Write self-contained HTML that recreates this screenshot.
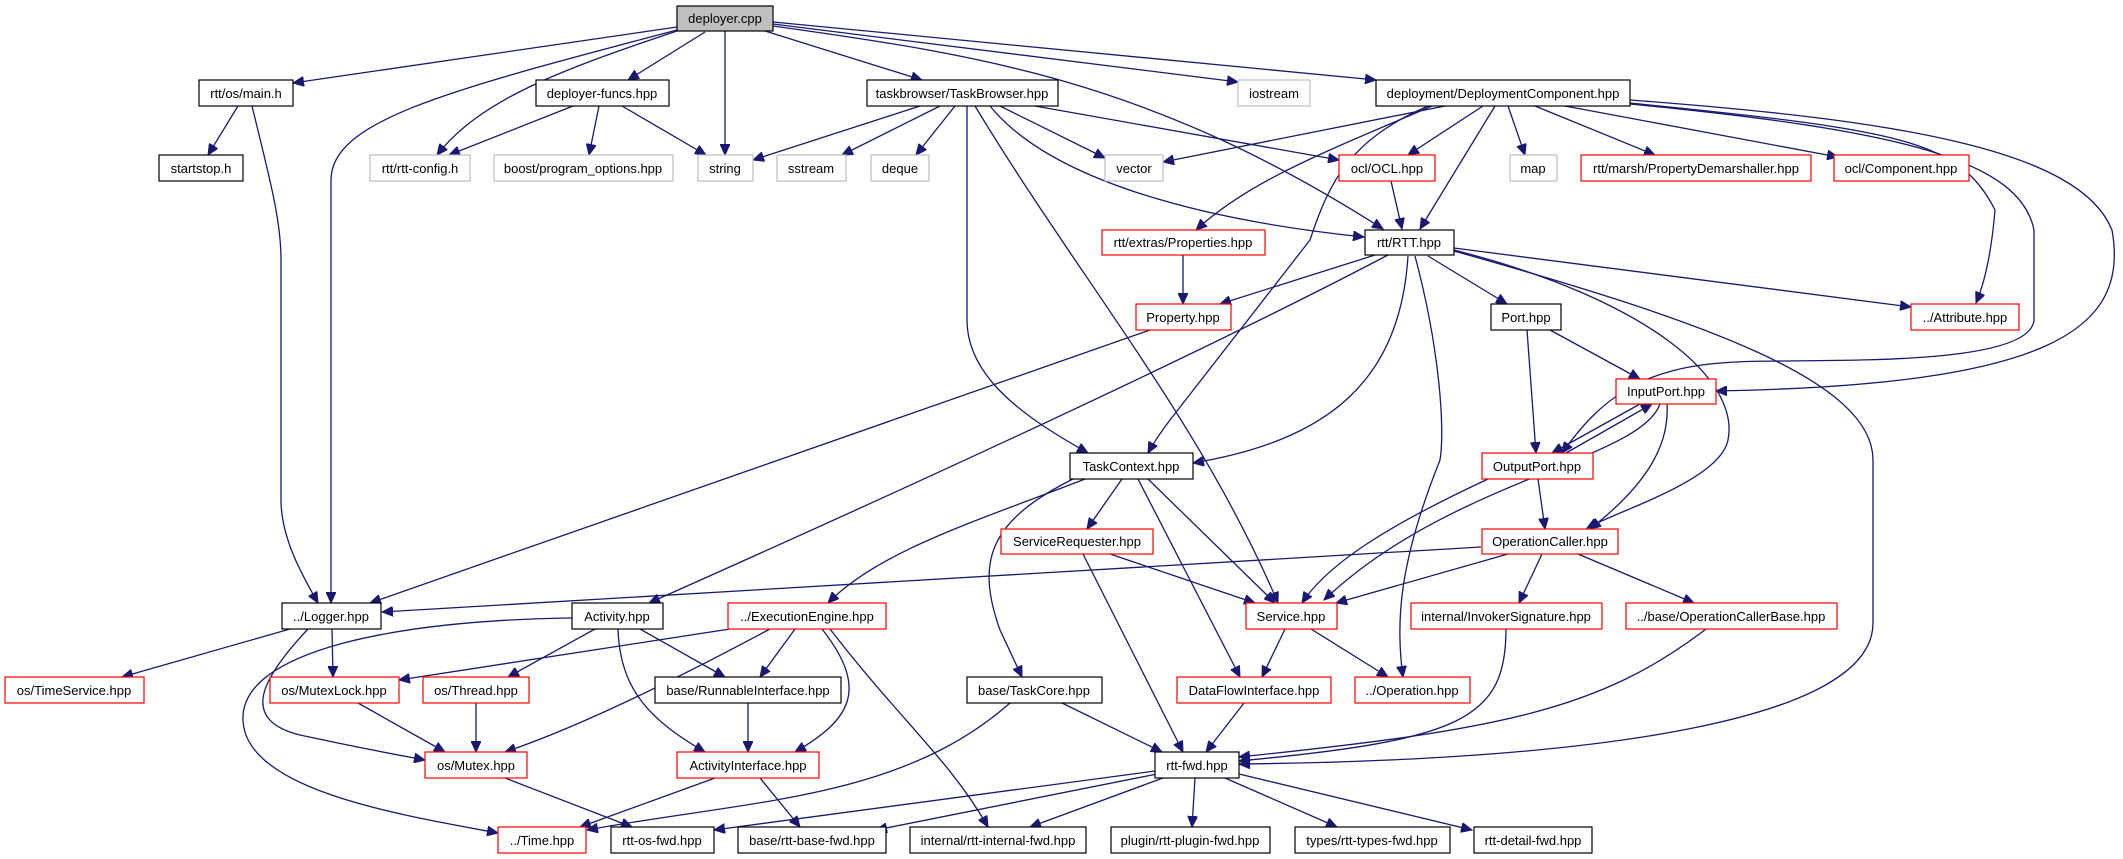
<!DOCTYPE html>
<html><head><meta charset="utf-8"><style>
html,body{margin:0;padding:0;background:#fff;}
svg{display:block;}
text{font-family:"Liberation Sans",Arial,sans-serif;font-size:13px;text-anchor:middle;fill:#000;}
.e{fill:none;stroke:#191970;stroke-width:1.3;marker-end:url(#a);}
.k{fill:#fff;stroke:#000;stroke-width:1.2;}
.r{fill:#fff;stroke:#ff0000;stroke-width:1.2;}
.g{fill:#fff;stroke:#bfbfbf;stroke-width:1.2;}
</style></head><body>
<svg width="2123" height="859" viewBox="0 0 2123 859" xmlns="http://www.w3.org/2000/svg">
<defs><marker id="a" markerUnits="userSpaceOnUse" markerWidth="12" markerHeight="10" refX="11" refY="5" orient="auto"><path d="M0,0 L11,5 L0,10 z" fill="#191970" stroke="#191970"/></marker></defs>

<!-- edges -->
<path class="e" d="M677,27 L293,83"/>
<path class="e" d="M677,30 C450,90 331,120 331,180 L331,603"/>
<path class="e" d="M677,31 C560,70 480,100 437,155"/>
<path class="e" d="M705,32 L628,80"/>
<path class="e" d="M725,31 L725,155"/>
<path class="e" d="M765,31 L922,80"/>
<path class="e" d="M773,24 L1238,82"/>
<path class="e" d="M773,22 L1376,80"/>
<path class="e" d="M773,26 C980,55 1150,80 1383,229"/>

<path class="e" d="M920,106 L753,160"/>
<path class="e" d="M940,106 L842,155"/>
<path class="e" d="M955,106 L916,155"/>
<path class="e" d="M1000,106 L1105,158"/>
<path class="e" d="M1035,106 L1339,160"/>
<path class="e" d="M990,106 C1050,180 1200,220 1364,237"/>
<path class="e" d="M967,106 L967,320 C967,380 1030,420 1088,453"/>
<path class="e" d="M975,106 C1080,280 1200,420 1278,603"/>

<path class="e" d="M1445,106 L1163,162"/>
<path class="e" d="M1432,106 C1330,150 1250,180 1196,230"/>
<path class="e" d="M1428,106 C1350,140 1330,180 1310,240 L1170,420 Q1155,440 1148,453"/>
<path class="e" d="M1483,106 L1408,155"/>
<path class="e" d="M1495,106 L1420,229"/>
<path class="e" d="M1508,106 L1525,155"/>
<path class="e" d="M1535,106 L1655,155"/>
<path class="e" d="M1565,106 L1838,157"/>
<path class="e" d="M1630,103 C1900,130 1960,140 1995,210 Q1990,270 1976,303"/>
<path class="e" d="M1630,100 C1900,120 2080,150 2112,230 C2130,330 2050,385 1716,391"/>
<path class="e" d="M1630,104 C1900,130 2020,160 2034,230 L2034,320 C2030,370 1800,358 1736,362 C1640,366 1600,400 1562,453"/>

<path class="e" d="M1183,255 L1183,304"/>
<path class="e" d="M1391,181 L1402,229"/>

<path class="e" d="M1375,255 L1220,304"/>
<path class="e" d="M1150,330 L370,603"/>
<path class="e" d="M1388,255 Q1150,380 649,603"/>
<path class="e" d="M1408,256 C1400,380 1330,440 1193,463"/>
<path class="e" d="M1415,256 C1440,350 1445,430 1440,460 C1400,560 1395,620 1403,677"/>
<path class="e" d="M1428,256 L1507,304"/>
<path class="e" d="M1454,248 L1911,307"/>
<path class="e" d="M1454,250 C1650,300 1740,380 1728,440 C1720,480 1620,510 1587,528"/>
<path class="e" d="M1454,251 C1700,320 1873,380 1873,460 L1873,623 C1873,720 1600,760 1239,764"/>

<path class="e" d="M1527,330 L1536,453"/>
<path class="e" d="M1550,330 L1640,379"/>

<path class="e" d="M1640,404 L1552,453"/>
<path class="e" d="M1566,453 L1652,404"/>
<path class="e" d="M1660,404 C1640,460 1450,480 1324,600"/>
<path class="e" d="M1667,404 C1670,450 1640,490 1590,529"/>

<path class="e" d="M1538,479 L1545,529"/>
<path class="e" d="M1488,479 C1400,520 1330,560 1302,603"/>

<path class="e" d="M1122,479 L1087,529"/>
<path class="e" d="M1148,479 L1275,603"/>
<path class="e" d="M1138,479 L1240,677"/>
<path class="e" d="M1085,479 C980,520 880,550 828,603"/>
<path class="e" d="M1075,478 C990,520 975,560 1000,630 L1022,677"/>

<path class="e" d="M1110,554 L1255,603"/>
<path class="e" d="M1083,554 L1183,752"/>

<path class="e" d="M1481,547 L382,612"/>
<path class="e" d="M1508,554 L1336,603"/>
<path class="e" d="M1542,554 L1519,603"/>
<path class="e" d="M1578,554 L1694,603"/>

<path class="e" d="M1285,629 L1262,677"/>
<path class="e" d="M1311,629 L1388,677"/>

<path class="e" d="M1506,629 C1506,720 1460,740 1239,761"/>
<path class="e" d="M1706,629 C1600,710 1500,730 1239,757"/>
<path class="e" d="M1244,703 L1206,752"/>
<path class="e" d="M1062,703 L1162,752"/>
<path class="e" d="M1010,703 C900,800 750,800 587,830"/>

<path class="e" d="M1155,771 L714,830"/>
<path class="e" d="M1157,774 L876,830"/>
<path class="e" d="M1163,778 L1030,827"/>
<path class="e" d="M1195,778 L1192,827"/>
<path class="e" d="M1225,778 L1337,827"/>
<path class="e" d="M1239,774 L1472,830"/>

<path class="e" d="M290,629 L122,677"/>
<path class="e" d="M332,629 L333,677"/>
<path class="e" d="M308,629 C260,680 240,720 300,735 Q360,748 425,760"/>

<path class="e" d="M572,618 C400,620 240,650 243,720 C245,790 400,815 498,833"/>
<path class="e" d="M595,629 L508,677"/>
<path class="e" d="M640,629 L725,677"/>
<path class="e" d="M618,629 C620,690 650,720 705,752"/>

<path class="e" d="M730,629 L399,680"/>
<path class="e" d="M770,629 Q600,720 505,752"/>
<path class="e" d="M795,629 L760,677"/>
<path class="e" d="M822,629 C870,690 850,720 795,752"/>
<path class="e" d="M830,629 C900,720 950,760 988,827"/>

<path class="e" d="M358,703 L445,752"/>
<path class="e" d="M476,703 L476,752"/>
<path class="e" d="M748,703 L748,752"/>
<path class="e" d="M505,778 L632,827"/>
<path class="e" d="M715,778 L580,827"/>
<path class="e" d="M760,778 L800,827"/>

<path class="e" d="M238,106 L208,155"/>
<path class="e" d="M252,106 C270,180 281,220 281,260 L281,500 C281,540 305,580 318,603"/>
<path class="e" d="M573,106 L449,155"/>
<path class="e" d="M599,106 L589,155"/>
<path class="e" d="M622,106 L706,155"/>

<!-- nodes -->
<rect x="677" y="6" width="96" height="25" fill="#bfbfbf" stroke="#000" stroke-width="1.2"/><text x="725" y="23">deployer.cpp</text>

<rect class="k" x="199" y="80" width="94" height="26"/><text x="246" y="98">rtt/os/main.h</text>
<rect class="k" x="536" y="80" width="133" height="26"/><text x="602" y="98">deployer-funcs.hpp</text>
<rect class="k" x="867" y="80" width="191" height="26"/><text x="962" y="98">taskbrowser/TaskBrowser.hpp</text>
<rect class="g" x="1238" y="80" width="72" height="26"/><text x="1274" y="98">iostream</text>
<rect class="k" x="1376" y="80" width="254" height="26"/><text x="1503" y="98">deployment/DeploymentComponent.hpp</text>

<rect class="k" x="159" y="155" width="84" height="26"/><text x="201" y="173">startstop.h</text>
<rect class="g" x="370" y="155" width="100" height="26"/><text x="420" y="173">rtt/rtt-config.h</text>
<rect class="g" x="494" y="155" width="179" height="26"/><text x="583" y="173">boost/program_options.hpp</text>
<rect class="g" x="698" y="155" width="55" height="26"/><text x="725" y="173">string</text>
<rect class="g" x="777" y="155" width="69" height="26"/><text x="811" y="173">sstream</text>
<rect class="g" x="871" y="155" width="58" height="26"/><text x="900" y="173">deque</text>
<rect class="g" x="1105" y="155" width="58" height="26"/><text x="1134" y="173">vector</text>
<rect class="r" x="1339" y="155" width="96" height="26"/><text x="1387" y="173">ocl/OCL.hpp</text>
<rect class="g" x="1510" y="155" width="47" height="26"/><text x="1533" y="173">map</text>
<rect class="r" x="1581" y="155" width="230" height="26"/><text x="1696" y="173">rtt/marsh/PropertyDemarshaller.hpp</text>
<rect class="r" x="1834" y="155" width="135" height="26"/><text x="1901" y="173">ocl/Component.hpp</text>

<rect class="r" x="1102" y="230" width="163" height="25"/><text x="1183" y="247">rtt/extras/Properties.hpp</text>
<rect class="k" x="1365" y="230" width="89" height="25"/><text x="1409" y="247">rtt/RTT.hpp</text>

<rect class="r" x="1136" y="304" width="95" height="26"/><text x="1183" y="322">Property.hpp</text>
<rect class="k" x="1491" y="304" width="70" height="26"/><text x="1526" y="322">Port.hpp</text>
<rect class="r" x="1911" y="304" width="108" height="26"/><text x="1965" y="322">../Attribute.hpp</text>

<rect class="r" x="1616" y="379" width="100" height="25"/><text x="1666" y="396">InputPort.hpp</text>

<rect class="k" x="1070" y="453" width="123" height="26"/><text x="1131" y="471">TaskContext.hpp</text>
<rect class="r" x="1482" y="453" width="111" height="26"/><text x="1537" y="471">OutputPort.hpp</text>

<rect class="r" x="1001" y="529" width="152" height="25"/><text x="1077" y="546">ServiceRequester.hpp</text>
<rect class="r" x="1482" y="529" width="136" height="25"/><text x="1550" y="546">OperationCaller.hpp</text>

<rect class="k" x="282" y="603" width="99" height="26"/><text x="331" y="621">../Logger.hpp</text>
<rect class="k" x="572" y="603" width="91" height="26"/><text x="617" y="621">Activity.hpp</text>
<rect class="r" x="728" y="603" width="158" height="26"/><text x="807" y="621">../ExecutionEngine.hpp</text>
<rect class="r" x="1246" y="603" width="91" height="26"/><text x="1291" y="621">Service.hpp</text>
<rect class="r" x="1411" y="603" width="191" height="26"/><text x="1506" y="621">internal/InvokerSignature.hpp</text>
<rect class="r" x="1626" y="603" width="211" height="26"/><text x="1731" y="621">../base/OperationCallerBase.hpp</text>

<rect class="r" x="5" y="677" width="139" height="26"/><text x="74" y="695">os/TimeService.hpp</text>
<rect class="r" x="270" y="677" width="129" height="26"/><text x="334" y="695">os/MutexLock.hpp</text>
<rect class="r" x="423" y="677" width="106" height="26"/><text x="476" y="695">os/Thread.hpp</text>
<rect class="k" x="655" y="677" width="186" height="26"/><text x="748" y="695">base/RunnableInterface.hpp</text>
<rect class="k" x="967" y="677" width="135" height="26"/><text x="1034" y="695">base/TaskCore.hpp</text>
<rect class="r" x="1177" y="677" width="154" height="26"/><text x="1254" y="695">DataFlowInterface.hpp</text>
<rect class="r" x="1355" y="677" width="115" height="26"/><text x="1412" y="695">../Operation.hpp</text>

<rect class="r" x="425" y="752" width="102" height="26"/><text x="476" y="770">os/Mutex.hpp</text>
<rect class="r" x="677" y="752" width="142" height="26"/><text x="748" y="770">ActivityInterface.hpp</text>
<rect class="k" x="1155" y="752" width="84" height="26"/><text x="1197" y="770">rtt-fwd.hpp</text>

<rect class="r" x="498" y="827" width="88" height="26"/><text x="542" y="845">../Time.hpp</text>
<rect class="k" x="611" y="827" width="103" height="26"/><text x="662" y="845">rtt-os-fwd.hpp</text>
<rect class="k" x="738" y="827" width="148" height="26"/><text x="812" y="845">base/rtt-base-fwd.hpp</text>
<rect class="k" x="910" y="827" width="176" height="26"/><text x="998" y="845">internal/rtt-internal-fwd.hpp</text>
<rect class="k" x="1111" y="827" width="159" height="26"/><text x="1190" y="845">plugin/rtt-plugin-fwd.hpp</text>
<rect class="k" x="1295" y="827" width="155" height="26"/><text x="1372" y="845">types/rtt-types-fwd.hpp</text>
<rect class="k" x="1474" y="827" width="118" height="26"/><text x="1533" y="845">rtt-detail-fwd.hpp</text>
</svg>
</body></html>
